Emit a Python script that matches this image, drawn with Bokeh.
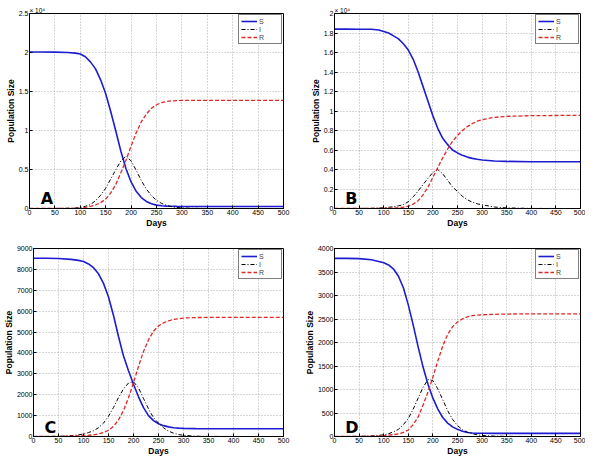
from bokeh.plotting import figure
from bokeh.layouts import column, row
from bokeh.models import Range1d, FixedTicker, Label
from bokeh.embed import file_html
from bokeh.resources import INLINE

days = [0, 25, 50, 75, 90, 100, 110, 120, 130, 140, 150, 160, 170, 180, 190, 200,
        210, 220, 230, 240, 250, 260, 270, 280, 290, 300, 325, 350, 400, 450, 500]

A_S = [20060, 20060, 20050, 20000, 19920, 19800, 19450, 18800, 17900, 16500, 14700, 12400, 9900, 7300,
       5100, 3400, 2200, 1400, 900, 600, 430, 350, 300, 280, 270, 265, 260, 260, 260, 260, 260]
A_I = [0, 2, 10, 35, 70, 120, 280, 500, 1000, 1700, 2600, 3800, 5000, 6100, 6700, 6100, 4900, 3600,
       2500, 1650, 1050, 650, 400, 230, 130, 75, 20, 5, 0, 0, 0]
A_R = [0, 0, 2, 10, 25, 50, 150, 280, 450, 750, 1200, 2000, 3100, 4600, 6200, 8000, 9700, 11100,
       12100, 12850, 13300, 13580, 13720, 13800, 13830, 13850, 13860, 13860, 13860, 13860, 13860]

B_S = [18400, 18400, 18390, 18380, 18300, 18150, 18000, 17700, 17400, 16900, 16250, 15300, 14000, 12500,
       11000, 9500, 8200, 7200, 6550, 6000, 5700, 5450, 5270, 5140, 5050, 4980, 4870, 4830, 4800, 4800, 4800]
B_I = [0, 2, 8, 20, 50, 80, 120, 180, 270, 400, 700, 1200, 1800, 2450, 3100, 3700, 4000, 3550, 2900,
       2200, 1750, 1250, 900, 650, 480, 380, 150, 60, 10, 0, 0]
B_R = [0, 0, 2, 5, 10, 20, 35, 60, 90, 130, 250, 450, 800, 1400, 2200, 3200, 4200, 5200, 6100, 6900,
       7500, 8000, 8400, 8700, 8950, 9100, 9350, 9450, 9520, 9540, 9550]

C_S = [8530, 8530, 8520, 8480, 8430, 8380, 8260, 8080, 7790, 7330, 6680, 5790, 4790, 3850, 3150, 2500,
       1900, 1380, 1000, 760, 610, 520, 460, 420, 400, 390, 375, 370, 370, 370, 370]
C_I = [0, 2, 10, 40, 80, 120, 190, 270, 420, 640, 970, 1390, 1860, 2280, 2560, 2620, 2330, 1820, 1320,
       900, 640, 420, 260, 160, 95, 55, 15, 5, 0, 0, 0]
C_R = [0, 0, 3, 15, 30, 50, 60, 80, 120, 190, 300, 490, 790, 1240, 1860, 2580, 3350, 4070, 4630, 5040,
       5290, 5440, 5540, 5600, 5640, 5670, 5695, 5700, 5705, 5705, 5705]

D_S = [3790, 3790, 3785, 3760, 3725, 3695, 3650, 3563, 3410, 3165, 2800, 2370, 1907, 1477, 1112, 815,
       583, 404, 285, 205, 152, 113, 86, 73, 70, 68, 67, 66, 66, 66, 66]
D_I = [0, 1, 4, 15, 25, 35, 60, 100, 152, 252, 384, 583, 815, 1046, 1210, 1190, 1013, 781, 550, 364,
       232, 146, 93, 60, 35, 20, 8, 3, 0, 0, 0]
D_R = [0, 0, 1, 5, 12, 18, 28, 40, 55, 86, 139, 252, 417, 669, 947, 1265, 1609, 1927, 2172, 2338,
       2437, 2503, 2545, 2570, 2582, 2590, 2600, 2605, 2610, 2610, 2610]

x_ticks = [0, 50, 100, 150, 200, 250, 300, 350, 400, 450, 500]
A_yticks = [0, 5000, 10000, 15000, 20000, 25000]
A_ylabels = ["0", "0.5", "1", "1.5", "2", "2.5"]
B_yticks = [0, 2000, 4000, 6000, 8000, 10000, 12000, 14000, 16000, 18000, 20000]
B_ylabels = ["0", "0.2", "0.4", "0.6", "0.8", "1", "1.2", "1.4", "1.6", "1.8", "2"]
C_yticks = [0, 1000, 2000, 3000, 4000, 5000, 6000, 7000, 8000, 9000]
C_ylabels = [str(v) for v in C_yticks]
D_yticks = [0, 500, 1000, 1500, 2000, 2500, 3000, 3500, 4000]
D_ylabels = [str(v) for v in D_yticks]

FONT = "Liberation Sans"


def panel(S, I, R, yticks, ylabels, letter, exp_text, width, height, bl, br, bt, bb):
    ymax = yticks[-1]
    p = figure(width=width, height=height, x_range=Range1d(0, 500), y_range=Range1d(0, ymax),
               output_backend="svg", toolbar_location=None,
               min_border_left=bl, min_border_right=br, min_border_top=bt, min_border_bottom=bb,
               background_fill_color="white", border_fill_color="white")
    p.outline_line_color = "black"
    p.outline_line_alpha = 1
    p.outline_line_width = 1

    p.line(days, S, color="#1c1cd2", line_width=1.6, legend_label="S")
    p.line(days, I, color="black", line_width=1.0, line_dash="4 2 1 2", legend_label="I")
    p.line(days, R, color="#e02828", line_width=1.3, line_dash="4 2", legend_label="R")

    p.xaxis.ticker = FixedTicker(ticks=x_ticks)
    p.yaxis.ticker = FixedTicker(ticks=yticks)
    p.yaxis.major_label_overrides = {t: l for t, l in zip(yticks, ylabels)}
    for ax in (p.xaxis, p.yaxis):
        ax.major_tick_in = 3
        ax.major_tick_out = 0
        ax.minor_tick_line_color = None
        ax.axis_line_color = "black"
        ax.major_tick_line_color = "black"
        ax.major_label_text_font = FONT
        ax.major_label_text_font_size = "7px"
        ax.major_label_text_color = "black"
        ax.axis_label_text_font = FONT
        ax.axis_label_text_font_size = "8.5px"
        ax.axis_label_text_font_style = "bold"
        ax.axis_label_text_color = "black"
        ax.axis_label_standoff = 0
    p.yaxis.major_label_standoff = 1
    p.xaxis.major_label_standoff = 1
    p.xaxis.axis_label = "Days"
    p.yaxis.axis_label = "Population Size"

    p.grid.grid_line_color = "#9a9a9a"
    p.grid.grid_line_dash = "1 2"
    p.grid.grid_line_width = 0.8

    lg = p.legend[0]
    lg.location = "top_right"
    lg.margin = 1
    lg.padding = 2
    lg.spacing = 0
    lg.border_line_color = "black"
    lg.border_line_width = 1
    lg.background_fill_color = "white"
    lg.background_fill_alpha = 1
    lg.label_text_font = FONT
    lg.label_text_font_size = "7px"
    lg.label_height = 8
    lg.glyph_height = 8
    lg.glyph_width = 16
    lg.label_standoff = 2

    p.add_layout(Label(x=22, y=ymax * 0.05, text=letter, text_font="DejaVu Sans",
                       text_font_style="bold", text_font_size="16px", text_color="black",
                       text_baseline="alphabetic"))
    if exp_text:
        p.title.text = exp_text
        p.title.text_font = FONT
        p.title.text_font_size = "6.5px"
        p.title.text_font_style = "normal"
        p.title.text_color = "black"
        p.title.align = "left"
        p.title.standoff = 0
        p.title.offset = 0
    return p


pA = panel(A_S, A_I, A_R, A_yticks, A_ylabels, "A", "\u00d7 10\u2074", 299, 230, 29, 16, 13, 20)
pB = panel(B_S, B_I, B_R, B_yticks, B_ylabels, "B", "\u00d7 10\u2074", 286, 230, 35, 5, 13, 20)
pC = panel(C_S, C_I, C_R, C_yticks, C_ylabels, "C", None, 299, 228, 29, 16, 18, 20)
pD = panel(D_S, D_I, D_R, D_yticks, D_ylabels, "D", None, 286, 228, 35, 5, 18, 20)

layout = column(row(pA, pB, spacing=0), row(pC, pD, spacing=0), spacing=0)

open("out.html", "w").write(file_html(layout, INLINE))
